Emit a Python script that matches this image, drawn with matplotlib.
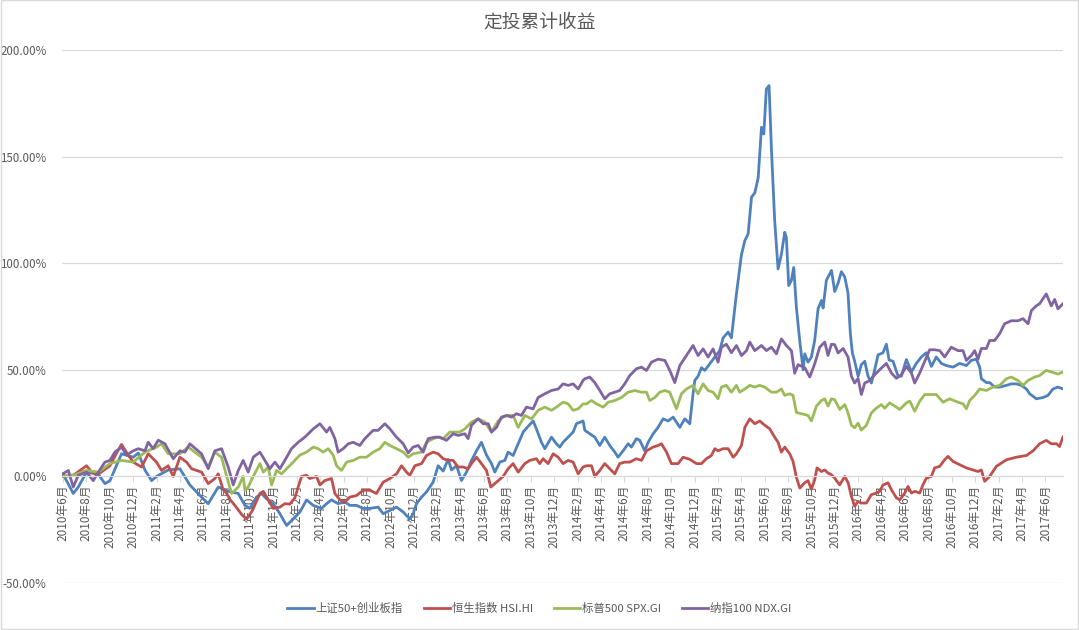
import matplotlib
matplotlib.use("Agg")
import matplotlib.pyplot as plt
from matplotlib.patches import Rectangle
from matplotlib.ticker import FuncFormatter

plt.rcParams['font.family'] = ['Noto Sans CJK SC', 'DejaVu Sans']

# month offsets from 2010-06, cumulative return in %
sz50_cyb = [(0, 1.2), (0.88, -8), (1.31, -5), (2.02, 2), (3.02, 1), (3.59, -3.4), (4.02, -2), (5.01, 10.6), (6.01, 9), (6.44, 11),
            (7.01, 3), (7.58, -2), (8.0, 0), (9.0, 3), (10.0, 3.6), (10.85, -4), (11.85, -9.7), (12.42, -12.8), (13.28, -5), (14.13, -7),
            (14.99, -8), (15.56, -13.6), (15.98, -15), (16.55, -9.7), (16.98, -8), (17.41, -10.5), (17.98, -12.8), (18.55, -17.5), (19.12, -23),
            (19.69, -20), (20.26, -16.7), (20.83, -11), (21.4, -13.6), (22.11, -15), (22.54, -12.8), (22.96, -11), (23.53, -12.8), (24.1, -12),
            (24.53, -13.6), (25.1, -13.6), (25.67, -15), (26.24, -15), (26.95, -14.4), (27.38, -17.5), (27.95, -16), (28.52, -14.4), (29.09, -16.7),
            (29.66, -20), (29.94, -17.5), (30.23, -12.8), (30.66, -9.7), (31.08, -7.3), (31.65, -2.7), (32.08, 5), (32.51, 2.5), (32.93, 8),
            (33.22, 3), (33.65, 5), (34.07, -1.9), (34.5, 2), (34.93, 7.5), (35.36, 12), (35.78, 16), (36.21, 10), (36.64, 6), (36.92, 2),
            (37.35, 6.7), (37.78, 7.5), (38.06, 11.4), (38.49, 9.8), (38.92, 15.3), (39.35, 20.8), (39.77, 23.5), (40.2, 26), (40.48, 22.3),
            (40.91, 16), (41.2, 13), (41.77, 18.4), (42.19, 15.3), (42.48, 13.75), (42.76, 16), (43.19, 18.4), (43.62, 20.8), (43.9, 24.7),
            (44.47, 26), (44.62, 21.6), (45.04, 20), (45.47, 18.4), (45.9, 14.5), (46.32, 18.4), (46.75, 14.5), (47.18, 11.4), (47.46, 9),
            (47.89, 12), (48.32, 15.3), (48.6, 13.75), (49.03, 17.7), (49.32, 16.9), (49.74, 12), (50.03, 16), (50.46, 20), (50.88, 23), (51.31, 27),
            (51.74, 26), (52.17, 27.8), (52.74, 23), (53.16, 27), (53.59, 24.7), (53.87, 38.75), (54.02, 45), (54.3, 47), (54.59, 51), (54.87, 49.7),
            (55.3, 52.8), (55.73, 55.9), (56.15, 59), (56.44, 65), (56.87, 67.7), (57.15, 65), (57.58, 85.6), (58.01, 104), (58.3, 110.6),
            (58.58, 113.75), (58.87, 131), (59.15, 133), (59.44, 140), (59.72, 163.75), (59.92, 160.6), (60.14, 181.7), (60.37, 183.3), (60.57, 154),
            (60.85, 120), (61.14, 97.3), (61.42, 104), (61.71, 114.5), (61.85, 112), (62.05, 89.5), (62.28, 92), (62.48, 98), (62.71, 79),
            (62.99, 63.75), (63.28, 50), (63.42, 57.5), (63.7, 53.6), (63.99, 56), (64.27, 63.75), (64.56, 78.6), (64.85, 82.5), (64.99, 79),
            (65.27, 92), (65.56, 95), (65.71, 96.6), (65.98, 86.7), (66.27, 90.6), (66.55, 96), (66.84, 93.6), (67.12, 86), (67.32, 67), (67.49, 58),
            (67.69, 54), (67.98, 47), (68.26, 52.4), (68.55, 54), (68.83, 47), (69.12, 43.8), (69.4, 50), (69.69, 57), (70.11, 58), (70.4, 62),
            (70.63, 54.6), (70.97, 54), (71.4, 47), (71.68, 47), (72.11, 54.8), (72.54, 49), (72.96, 53), (73.39, 56), (73.82, 58), (74.25, 51.6),
            (74.67, 56), (75.1, 53), (75.52, 52), (76.1, 51.25), (76.67, 53), (77.24, 52), (77.66, 54.4), (78.09, 55), (78.38, 51.25), (78.52, 45.8),
            (78.95, 44), (79.23, 44), (79.66, 41.9), (80.09, 41.9), (80.66, 42.7), (81.08, 43.4), (81.51, 43.4), (81.94, 42.7), (82.37, 41),
            (82.65, 38.75), (83.22, 36.4), (83.79, 37), (84.22, 38), (84.64, 41), (85.07, 41.9), (85.5, 41)]

hsi = [(0, 0), (0.88, 0.5), (2.02, 5), (2.45, 2), (3.02, 1), (4.02, 5), (4.59, 11), (5.01, 15), (5.58, 10), (6.01, 6.7), (6.72, 4.4),
       (7.29, 10.6), (8.0, 6.7), (8.43, 2.8), (9.0, 5), (9.43, 0), (10.0, 9), (10.57, 6.7), (11.0, 3.6), (11.85, 2), (12.42, -3.4), (12.99, -1),
       (13.28, 1.2), (13.68, -6), (14.0, -8), (14.3, -11), (14.7, -13.6), (15.3, -18), (15.7, -20), (16.2, -16), (16.84, -8), (17.13, -7),
       (17.55, -11), (17.98, -15), (18.55, -14.4), (18.97, -12.8), (19.4, -13), (19.83, -10), (20.11, -5), (20.4, 0), (20.83, 0.5), (21.1, -1),
       (21.68, 0), (21.97, -4), (22.4, -1.9), (22.96, -1), (23.25, -8), (23.67, -11), (24.1, -12), (24.53, -9.7), (25.1, -9), (25.67, -6.5),
       (26.24, -6.5), (26.8, -8), (27.38, -2.7), (27.95, -1), (28.52, 1.2), (28.95, 5), (29.37, 2), (29.66, 0.5), (30.09, 5), (30.66, 6),
       (31.08, 9.8), (31.65, 11.4), (32.08, 10.6), (32.51, 8.3), (32.93, 7.5), (33.36, 7.5), (33.79, 4.4), (34.22, 4.4), (34.64, 3.6), (34.93, 6),
       (35.36, 9), (35.78, 6), (36.21, 2.8), (36.58, -5), (37.07, -2.7), (37.64, 0), (38.06, 3.6), (38.49, 6), (38.92, 2), (39.49, 6),
       (39.91, 7.5), (40.48, 8.3), (40.77, 6), (41.05, 8.3), (41.48, 6), (41.91, 10.6), (42.34, 9), (42.76, 6), (43.19, 7.5), (43.62, 6.7),
       (44.05, 1.2), (44.47, 4.4), (44.76, 5), (45.19, 5), (45.47, 0), (45.9, 2.8), (46.32, 6), (46.75, 3.6), (47.18, 1.2), (47.6, 6),
       (48.03, 6.7), (48.46, 6.7), (49.03, 8.3), (49.46, 7.5), (49.89, 12), (50.46, 13.75), (50.88, 14.5), (51.17, 15.3), (51.6, 11.4),
       (52.02, 6), (52.59, 6), (53.02, 9), (53.59, 8), (54.16, 6), (54.59, 6), (55.01, 8.3), (55.44, 9.8), (55.73, 13), (56.01, 12),
       (56.44, 13), (56.87, 13), (57.3, 9), (57.58, 10.6), (58.01, 14.5), (58.3, 23), (58.72, 27), (59.15, 24.7), (59.57, 26), (60.0, 24),
       (60.43, 22.3), (60.85, 18.4), (61.14, 16), (61.42, 11.4), (61.71, 13.75), (62.14, 10.6), (62.42, 7), (62.71, -0.5), (63.0, -5.5),
       (63.42, -3), (63.7, -2), (63.99, -6), (64.27, -1.6), (64.47, 4), (64.85, 2.3), (65.13, 3), (65.41, 1.6), (65.7, 0.8), (65.98, -0.8),
       (66.41, -4), (66.84, 0), (67.13, -3), (67.41, -9.4), (67.69, -14), (67.98, -11.7), (68.26, -12.5), (68.69, -12.5), (69.11, -8.6),
       (69.54, -7.8), (69.83, -7), (70.11, -4), (70.54, -3), (70.83, -6.25), (71.25, -10), (71.54, -11), (71.97, -7.8), (72.25, -4.7),
       (72.54, -7.8), (72.83, -7), (73.25, -7.8), (73.53, -3.9), (73.82, -0.8), (74.25, 0), (74.53, 4), (74.96, 4.7), (75.38, 7.8), (75.67, 9.4),
       (76.1, 7), (76.67, 5.5), (77.23, 4), (77.81, 3), (78.23, 2.3), (78.52, 3), (78.8, -2.3), (79.23, 0), (79.8, 4.7), (80.23, 6.25),
       (80.66, 7.8), (81.51, 9), (82.37, 9.8), (82.94, 12), (83.5, 15.3), (84.07, 16.9), (84.5, 15.3), (84.96, 15.3), (85.2, 14), (85.5, 18.5)]

spx = [(0, 0), (1.03, 0.8), (2.02, 2.8), (3.02, 2), (4.02, 6), (5.01, 7.5), (6.01, 6.7), (7.01, 11.4), (8.0, 13.75), (8.43, 15.3), (9.0, 10.6),
       (10.0, 10.6), (10.71, 13.75), (11.85, 9), (12.42, 4.4), (12.99, 11.4), (13.56, 9), (14.0, 0), (14.42, -8), (14.99, -5), (15.41, 0),
       (15.56, -6.5), (15.84, -5), (16.27, 0), (16.84, 6), (17.13, 2), (17.55, 4.4), (17.84, -4), (18.26, 2.8), (18.69, 1.2), (19.12, 3.6),
       (19.69, 6.7), (20.26, 10), (20.83, 11.4), (21.4, 13.75), (21.82, 13), (22.25, 11.4), (22.68, 13), (23.1, 10), (23.39, 5), (23.82, 2.8),
       (24.25, 6.7), (24.82, 7.5), (25.38, 9), (25.95, 9), (26.52, 11.4), (27.09, 13), (27.52, 16), (27.95, 14.5), (28.52, 13), (29.09, 11.4),
       (29.52, 9), (29.94, 10.6), (30.66, 11.4), (31.08, 16), (31.65, 17.7), (32.08, 18.4), (32.51, 17.7), (33.08, 20.8), (33.5, 20.8),
       (33.93, 20.8), (34.36, 22.3), (34.93, 25.5), (35.5, 27), (36.07, 25.5), (36.64, 20.8), (37.21, 26), (37.64, 27.8), (38.06, 28.6),
       (38.49, 28.6), (38.92, 23), (39.49, 28.6), (40.06, 27), (40.63, 31), (41.2, 32.5), (41.77, 31), (42.19, 32.5), (42.76, 34.8), (43.19, 34),
       (43.62, 31), (44.05, 31.7), (44.47, 34), (44.76, 34), (45.19, 35.6), (45.62, 34), (46.19, 32.5), (46.62, 34.8), (47.18, 35.6), (47.75, 37),
       (48.32, 39.5), (48.89, 40.3), (49.46, 39.5), (49.89, 39.5), (50.17, 35.6), (50.6, 37), (51.03, 39.5), (51.46, 40.3), (51.88, 39.5),
       (52.17, 35.6), (52.45, 31.7), (52.88, 38.75), (53.31, 41), (53.87, 42.7), (54.3, 38.75), (54.73, 43.4), (55.16, 40.3), (55.58, 39.5),
       (56.01, 36.4), (56.3, 41.9), (56.72, 42.7), (57.15, 39.5), (57.58, 42.7), (57.86, 39.5), (58.3, 41), (58.72, 42.7), (59.15, 41.9),
       (59.57, 42.7), (60.0, 41.9), (60.57, 39.5), (61.0, 39.5), (61.42, 41), (61.71, 38), (62.14, 38.75), (62.42, 38), (62.71, 30), (63.13, 29.4),
       (63.7, 28.6), (63.99, 26), (64.42, 33), (64.85, 35.6), (65.13, 36.4), (65.41, 33), (65.7, 36.4), (65.98, 36), (66.41, 31.4), (66.84, 33.7),
       (67.12, 29.8), (67.41, 24), (67.69, 22.8), (67.98, 25), (68.26, 21.7), (68.69, 24), (69.12, 29.8), (69.54, 32), (69.97, 33.7), (70.26, 32),
       (70.68, 34.5), (71.11, 33), (71.54, 31.4), (72.11, 34.5), (72.4, 35.3), (72.82, 30.6), (73.25, 35.3), (73.68, 38.4), (74.25, 38.4),
       (74.67, 38.4), (75.24, 34.8), (75.81, 36.4), (76.52, 34.8), (76.95, 34), (77.24, 31.7), (77.52, 35.6), (77.95, 38), (78.38, 41),
       (78.95, 40.3), (79.52, 41.9), (80.09, 42.7), (80.66, 45.8), (81.08, 46.6), (81.65, 45), (82.08, 42.7), (82.51, 45), (83.08, 46.6),
       (83.5, 47.3), (84.07, 49.7), (84.5, 49), (85.07, 48), (85.5, 49)]

ndx = [(0, 1.2), (0.46, 2.8), (0.88, -5), (1.31, 0.5), (2.02, 2), (2.59, -2), (3.02, 2), (3.59, 6.7), (4.02, 7.5), (4.44, 11.4), (5.01, 13.75),
       (5.44, 10), (6.01, 12), (6.44, 13), (7.01, 12), (7.29, 16), (7.72, 13), (8.15, 17), (8.72, 15.3), (9.43, 8.3), (10.0, 12), (10.43, 11.4),
       (10.85, 15.3), (11.85, 10.6), (12.42, 3.6), (12.99, 12), (13.56, 13), (14.13, 4.4), (14.56, -4), (14.99, 2.8), (15.41, 7.5), (15.84, 2),
       (16.27, 9), (16.84, 11.4), (17.27, 7.5), (17.69, 3.6), (18.12, 6.7), (18.55, 3.6), (18.97, 7.5), (19.54, 13), (20.11, 16), (20.68, 18.4),
       (21.4, 22.3), (21.97, 24.7), (22.54, 20.8), (22.82, 23), (23.25, 17.7), (23.53, 11.4), (23.96, 13), (24.39, 15.3), (24.82, 16),
       (25.38, 14.5), (25.81, 17.7), (26.52, 21.6), (26.95, 21.6), (27.52, 24.7), (27.95, 22.3), (28.52, 18.4), (29.09, 15.3), (29.52, 11),
       (29.94, 13.75), (30.37, 14.5), (30.8, 11.4), (31.23, 17.7), (31.79, 18.4), (32.22, 18.4), (32.79, 16.9), (33.36, 20), (33.79, 19.2),
       (34.36, 20), (34.64, 17.7), (34.93, 24), (35.5, 27), (35.93, 24.7), (36.36, 24.7), (36.64, 20.8), (37.07, 23), (37.49, 27.8),
       (37.92, 28.6), (38.35, 27.8), (38.77, 29.4), (39.2, 28.6), (39.63, 32.5), (40.2, 31.7), (40.63, 37), (41.2, 38.75), (41.77, 40.3),
       (42.34, 41), (42.76, 43.4), (43.19, 42.7), (43.62, 43.4), (44.05, 41), (44.47, 45), (44.62, 45.8), (45.04, 46.6), (45.47, 44),
       (45.9, 40.3), (46.32, 36.4), (46.75, 38.75), (47.18, 39.5), (47.6, 40.3), (48.03, 43.4), (48.46, 47.3), (49.03, 50.5), (49.46, 51.25),
       (49.89, 49.7), (50.32, 53.6), (50.88, 55), (51.46, 54.4), (51.88, 49.7), (52.31, 44), (52.74, 52), (53.31, 56.7), (53.87, 61.4),
       (54.3, 56.7), (54.73, 59.8), (55.16, 56), (55.58, 59.8), (56.01, 53.6), (56.3, 60.6), (56.72, 62), (57.15, 58), (57.58, 61.4),
       (58.01, 56.7), (58.44, 59), (58.72, 63), (59.15, 59), (59.72, 61.4), (60.14, 59), (60.57, 60.6), (61.0, 57.5), (61.42, 64.5),
       (61.85, 61.4), (62.28, 59), (62.56, 48.4), (62.85, 52.4), (63.42, 51), (63.85, 46.6), (64.27, 52.8), (64.7, 60.6), (65.13, 63),
       (65.41, 56.7), (65.7, 62), (65.98, 61.8), (66.27, 57.9), (66.7, 60), (67.12, 56), (67.41, 47), (67.69, 43.8), (67.98, 46), (68.26, 38.4),
       (68.55, 43.8), (68.98, 45), (69.4, 47.7), (69.97, 50.8), (70.4, 53), (70.83, 48.5), (71.25, 46), (71.68, 47.7), (72.11, 51.6),
       (72.54, 48.5), (72.82, 43.8), (73.25, 48.5), (73.68, 54), (74.1, 59.4), (74.53, 59.4), (74.96, 59), (75.38, 56), (75.95, 60.6),
       (76.52, 59), (76.95, 59), (77.24, 54.4), (77.66, 56.7), (77.95, 59), (78.23, 55), (78.52, 60), (78.95, 60), (79.23, 63.75),
       (79.66, 63.75), (80.09, 67), (80.51, 71.6), (81.08, 73), (81.65, 73), (82.08, 74), (82.51, 71.6), (82.8, 77.8), (83.22, 80), (83.5, 81),
       (84.07, 85.6), (84.5, 80), (84.79, 83), (85.07, 78.6), (85.5, 81)]

series_names = ['上证50+创业板指', '恒生指数 HSI.HI', '标普500 SPX.GI', '纳指100 NDX.GI']
series_colors = ['#4F81BD', '#C0504D', '#9BBB59', '#8064A2']

# x labels every two months, 2010-06 .. 2017-06
tick_labels = []
for i in range(43):
    mon = 6 + 2 * i
    tick_labels.append('%d年%d月' % (2010 + (mon - 1) // 12, (mon - 1) % 12 + 1))

fig = plt.figure(figsize=(10.79, 6.30), dpi=100)
ax = fig.add_axes([62 / 1079, 1 - 583 / 630, 1001 / 1079, 533 / 630])

for pts, name, color in zip([sz50_cyb, hsi, spx, ndx], series_names, series_colors):
    m, v = zip(*pts)
    ax.plot(m, v, color=color, lw=2.0, label=name, solid_joinstyle='round')

ax.set_ylim(-50, 200)
ax.set_xlim(-0.08, 85.5)
ax.set_yticks([-50, 0, 50, 100, 150, 200])
ax.yaxis.set_major_formatter(FuncFormatter(lambda v, p: '%.2f%%' % v))
ax.grid(axis='y', color='#d9d9d9', lw=0.9)
ax.set_axisbelow(True)

for s in ['top', 'right', 'left']:
    ax.spines[s].set_visible(False)
ax.spines['bottom'].set_position(('data', 0))
ax.spines['bottom'].set_color('#d9d9d9')

ax.set_xticks(range(0, 85, 2))
ax.set_xticklabels(tick_labels, rotation=90, va='top', ha='center')
ax.tick_params(axis='x', length=4, color='#d9d9d9', labelsize=8.5, labelcolor='#595959', pad=2)
ax.tick_params(axis='y', length=0, labelsize=8.3, labelcolor='#595959', pad=11)

fig.text(0.5, 1 - 22 / 630, '定投累计收益', ha='center', va='center', fontsize=13.5, color='#595959')

leg = fig.legend(loc='center', bbox_to_anchor=(0.5, 1 - 608 / 630), ncol=4, frameon=False,
                 fontsize=8.2, handlelength=2.3, columnspacing=1.8, handletextpad=0.2)
for t in leg.get_texts():
    t.set_color('#595959')

fig.patches.append(Rectangle((0.0005, 0.0008), 0.999, 0.9985, transform=fig.transFigure,
                             fill=False, edgecolor='#d9d9d9', lw=1))

fig.savefig('out.png', dpi=100)
